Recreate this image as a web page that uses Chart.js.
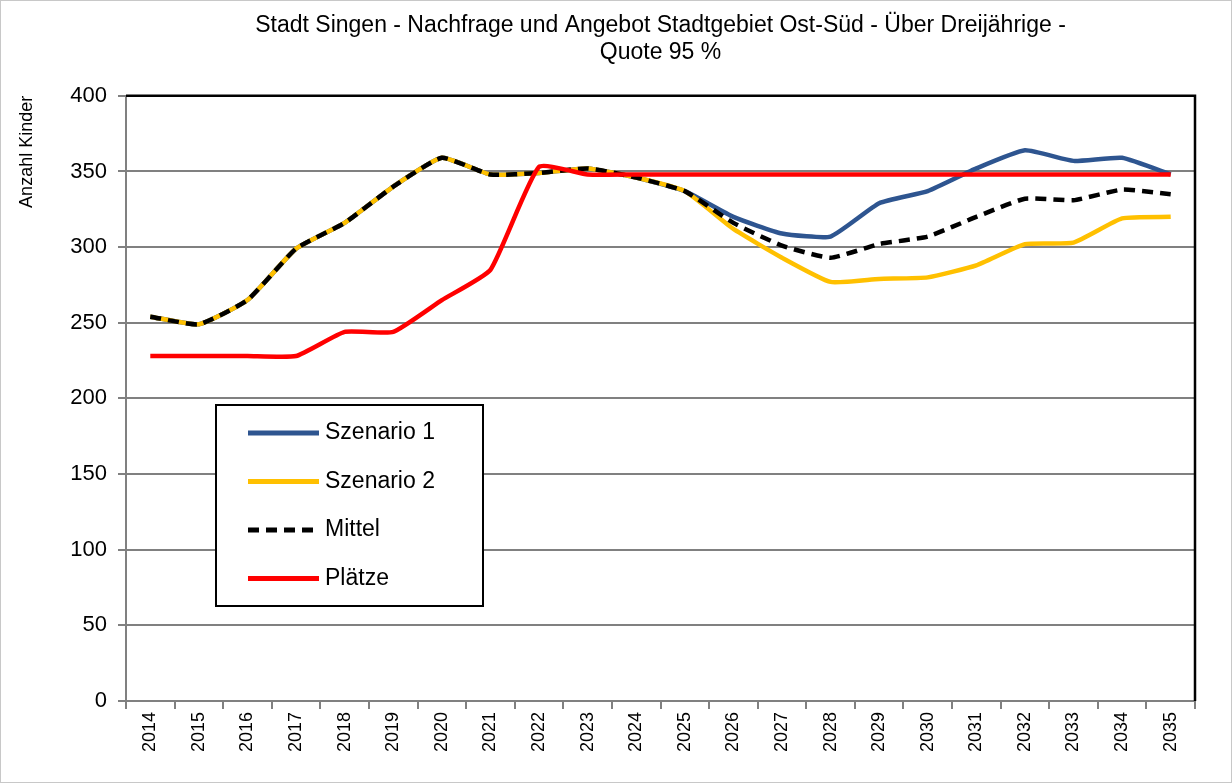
<!DOCTYPE html>
<html>
<head>
<meta charset="utf-8">
<script src="https://cdn.jsdelivr.net/npm/chart.js@4/dist/chart.umd.min.js"></script>
<style>
  html, body { margin: 0; padding: 0; background: #fff; }
  #wrap { position: relative; width: 1230px; height: 781px; border: 1px solid #c8c8c8; }
</style>
</head>
<body>
<div id="wrap"><canvas id="chart"></canvas></div>
<script>
const years = ['2014','2015','2016','2017','2018','2019','2020','2021','2022','2023','2024',
  '2025','2026','2027','2028','2029','2030','2031','2032','2033','2034','2035'];

const szenario1 = [254, 249, 265, 299, 316, 340, 359, 348, 349, 352, 346,
  337, 320, 309, 307, 329, 337, 352, 364, 357, 359, 348];
const szenario2 = [254, 249, 265, 299, 316, 340, 359, 348, 349, 352, 346,
  337, 312, 293, 277, 279, 280, 288, 302, 303, 319, 320];
const mittel = [254, 249, 265, 299, 316, 340, 359, 348, 349, 352, 346,
  337, 316, 301, 293, 302, 307, 320, 332, 331, 338, 335];
const plaetze = [228, 228, 228, 228, 244, 244, 265, 285, 353, 348, 348,
  348, 348, 348, 348, 348, 348, 348, 348, 348, 348, 348];

const FONT = "'Liberation Sans', Arial, sans-serif";

// top and right frame of the plot are black in the original
const frame = {
  id: 'frame',
  afterDatasetsDraw(chart) {
    const { ctx, chartArea: a } = chart;
    ctx.save();
    ctx.strokeStyle = '#000';
    ctx.lineWidth = 2.5;
    ctx.beginPath();
    ctx.moveTo(a.left, a.top);
    ctx.lineTo(a.right, a.top);
    ctx.lineTo(a.right, a.bottom);
    ctx.stroke();
    ctx.restore();
  }
};

// boxed legend sitting inside the plot
const boxLegend = {
  id: 'boxLegend',
  afterDraw(chart) {
    const { ctx } = chart;
    const x = 215, y = 404, w = 267, h = 201;
    ctx.save();
    ctx.fillStyle = '#fff';
    ctx.fillRect(x, y, w, h);
    ctx.strokeStyle = '#000';
    ctx.lineWidth = 2;
    ctx.strokeRect(x, y, w, h);
    ctx.font = '23px ' + FONT;
    ctx.textBaseline = 'middle';
    chart.data.datasets.forEach((ds, i) => {
      const ly = y + 28 + i * 48.5;
      ctx.strokeStyle = ds.borderColor;
      ctx.lineWidth = 5;
      ctx.setLineDash(ds.borderDash || []);
      ctx.beginPath();
      ctx.moveTo(x + 32, ly);
      ctx.lineTo(x + 103, ly);
      ctx.stroke();
      ctx.setLineDash([]);
      ctx.fillStyle = '#000';
      ctx.fillText(ds.label, x + 109, ly);
    });
    ctx.restore();
  }
};

new Chart(document.getElementById('chart'), {
  type: 'line',
  data: {
    labels: years,
    datasets: [
      { label: 'Szenario 1', data: szenario1, borderColor: '#2E5590', order: 3 },
      { label: 'Szenario 2', data: szenario2, borderColor: '#FFC000', order: 2 },
      { label: 'Mittel', data: mittel, borderColor: '#000000', borderDash: [11, 7], order: 1 },
      { label: 'Plätze', data: plaetze, borderColor: '#FF0000', order: 0 }
    ]
  },
  options: {
    responsive: true,
    maintainAspectRatio: false,
    animation: false,
    layout: { padding: { left: 10, right: 36, top: 0, bottom: 0 } },
    elements: {
      line: { borderWidth: 4.5, tension: 0.15, fill: false },
      point: { radius: 0 }
    },
    plugins: {
      legend: { display: false },
      tooltip: { enabled: false },
      title: {
        display: true,
        fullSize: false,
        text: ['Stadt Singen - Nachfrage und Angebot Stadtgebiet Ost-Süd - Über Dreijährige -', 'Quote 95 %'],
        color: '#000',
        font: { family: FONT, size: 23, weight: 'normal', lineHeight: 1.17 },
        padding: { top: 11, bottom: 30 }
      }
    },
    scales: {
      x: {
        offset: true,
        grid: { display: true, drawOnChartArea: false, offset: true, tickLength: 8, color: '#808080', lineWidth: 2 },
        border: { color: '#808080', width: 2 },
        ticks: { color: '#000', minRotation: 90, maxRotation: 90, padding: 3, font: { family: FONT, size: 18 } },
        afterFit(scale) { scale.height = 81; }
      },
      y: {
        min: 0,
        max: 400,
        ticks: { stepSize: 50, color: '#000', padding: 11, font: { family: FONT, size: 22 } },
        grid: { color: '#808080', lineWidth: 2, tickLength: 8 },
        border: { color: '#808080', width: 2 },
        title: {
          display: true,
          text: 'Anzahl Kinder',
          align: 'end',
          color: '#000',
          font: { family: FONT, size: 18 },
          padding: { top: 5, bottom: 0 }
        },
        afterFit(scale) { scale.width = 115; }
      }
    }
  },
  plugins: [frame, boxLegend]
});
</script>
</body>
</html>
